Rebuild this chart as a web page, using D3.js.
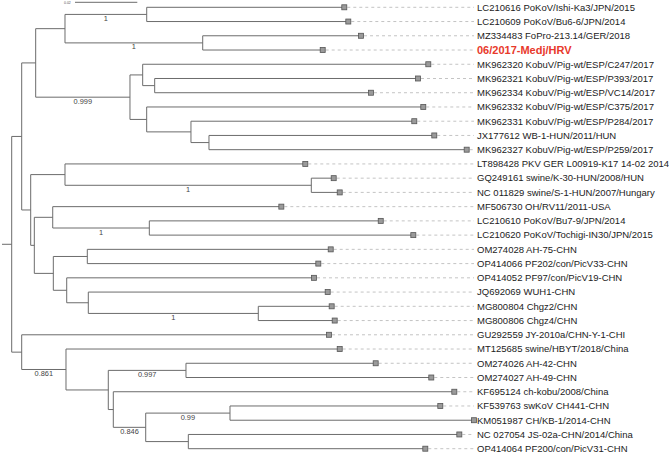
<!DOCTYPE html>
<html><head><meta charset="utf-8">
<script src="https://cdn.jsdelivr.net/npm/d3@7"></script>
<style>html,body{margin:0;padding:0;background:#fff;}svg{display:block;}text{-webkit-font-smoothing:antialiased;}</style>
</head><body>
<svg id="c" width="669" height="453"></svg>
<script>
// Tree topology with branch lengths (substitutions/site) and posterior supports
const treeNewick = "(((((" +
 "'LC210616 PoKoV/Ishi-Ka3/JPN/2015':0.06343,'LC210609 PoKoV/Bu6-6/JPN/2014':0.06472)1:0.02623," +
 "('MZ334483 FoPro-213.14/GER/2018':0.05082,'06/2017-Medj/HRV':0.03852)1:0.04421):0.00941," +
 "(('MK962320 KobuV/Pig-wt/ESP/C247/2017':0.09169,('MK962321 KobuV/Pig-wt/ESP/P393/2017':0.08453,'MK962334 KobuV/Pig-wt/ESP/VC14/2017':0.06944):0.00385):0.00408," +
 "('MK962332 KobuV/Pig-wt/ESP/C375/2017':0.08880,('MK962331 KobuV/Pig-wt/ESP/P284/2017':0.07169,('JX177612 WB-1-HUN/2011/HUN':0.07233,'MK962327 KobuV/Pig-wt/ESP/P259/2017':0.08273):0.00578):0.01422):0.00536)0.999:0.03027):0.00449," +
 "(('LT898428 PKV GER L00919-K17 14-02 2014':0.07714,('GQ249161 swine/K-30-HUN/2008/HUN':0.00719,'NC 011829 swine/S-1-HUN/2007/Hungary':0.00912)1:0.07907):0.01101," +
 "(('MF506730 OH/RV11/2011-USA':0.07339,('LC210610 PoKoV/Bu7-9/JPN/2014':0.07429,'LC210620 PoKoV/Tochigi-IN30/JPN/2015':0.08475)1:0.03101):0.00591," +
 "(('OM274028 AH-75-CHN':0.07814,'OP414066 PF202/con/PicV33-CHN':0.07416):0.01091," +
 "('OP414052 PF97/con/PicV19-CHN':0.07939,('JQ692069 WUH1-CHN':0.07685,('MG800804 Chgz2/CHN':0.02356,'MG800806 Chgz4/CHN':0.02453)1:0.05457):0.00693):0.00430):0.00610):0.00116):0.00289):0.00321," +
 "('GU292559 JY-2010a/CHN-Y-1-CHI':0.09865,('MT125685 swine/HBYT/2018/China':0.08787,(('OM274026 AH-42-CHN':0.06090,'OM274027 AH-49-CHN':0.07875)0.997:0.02494," +
 "('KF695124 ch-kobu/2008/China':0.10947,(('KF539763 swKoV CH441-CHN':0.06751,'KM051987 CH/KB-1/2014-CHN':0.07833)0.99:0.02706," +
 "('NC 027054 JS-02a-CHN/2014/China':0.08700,'OP414064 PF200/con/PicV31-CHN':0.07608):0.01368)0.846:0.01040):0.00161):0.01358)0.861:0.01422):0.00321);";
const highlightLeaf = "06/2017-Medj/HRV";
const scaleBarValue = 0.02;
const scaleBarLabel = "0.02";

function parseNewick(s) {
  let i = 0;
  function readLabel() {
    if (s[i] === "'") {
      let j = s.indexOf("'", i + 1);
      const t = s.slice(i + 1, j); i = j + 1; return t;
    }
    let t = "";
    while (i < s.length && !",():;".includes(s[i])) t += s[i++];
    return t;
  }
  function node() {
    const n = {};
    if (s[i] === "(") {
      i++; n.children = [];
      while (true) {
        n.children.push(node());
        if (s[i] === ",") { i++; continue; }
        if (s[i] === ")") { i++; break; }
      }
      const lab = readLabel();
      if (lab) n.support = lab;
    } else {
      n.name = readLabel();
    }
    if (s[i] === ":") { i++; let t = ""; while (i < s.length && !",();".includes(s[i])) t += s[i++]; n.length = +t; }
    else n.length = 0;
    return n;
  }
  return node();
}

const root = d3.hierarchy(parseNewick(treeNewick));
root.each(d => { d.len = d.parent ? d.parent.len + d.data.length : 0; });
const leaves = root.leaves();

const x = d3.scaleLinear().domain([0, scaleBarValue]).range([11.7, 74.0]);
const y = d3.scaleLinear().domain([0, leaves.length - 1]).range([7.3, 448.7]);

leaves.forEach((d, i) => { d.yy = y(i); });
root.eachAfter(d => { if (d.children) d.yy = (d.children[0].yy + d.children[d.children.length - 1].yy) / 2; });

const svg = d3.select("#c");
const lineCol = "#6c6c6c";
const labelX = 477;

// leader dashed lines
svg.append("g").selectAll("line").data(leaves).join("line")
  .attr("x1", d => x(d.len) + 3).attr("x2", labelX - 3)
  .attr("y1", d => d.yy).attr("y2", d => d.yy)
  .attr("stroke", "#c4c4c4").attr("stroke-width", 1).attr("stroke-dasharray", "3,3");

const g = svg.append("g").attr("fill", "none").attr("stroke", lineCol).attr("stroke-width", 1);
// root stub
g.append("line").attr("x1", 2).attr("x2", x(0)).attr("y1", root.yy).attr("y2", root.yy);
// vertical connectors
g.selectAll("line.v").data(root.descendants().filter(d => d.children)).join("line").attr("class", "v")
  .attr("x1", d => x(d.len)).attr("x2", d => x(d.len))
  .attr("y1", d => d.children[0].yy).attr("y2", d => d.children[d.children.length - 1].yy);
// horizontal branches
g.selectAll("line.h").data(root.descendants().filter(d => d.parent)).join("line").attr("class", "h")
  .attr("x1", d => x(d.parent.len)).attr("x2", d => x(d.len))
  .attr("y1", d => d.yy).attr("y2", d => d.yy);

// support labels
svg.append("g").selectAll("text").data(root.descendants().filter(d => d.data.support && d.parent)).join("text")
  .attr("x", d => (x(d.parent.len) + x(d.len)) / 2).attr("y", d => d.yy + 6.5)
  .attr("text-anchor", "middle").attr("font-family", "Liberation Sans, Arial, sans-serif")
  .attr("font-size", 7.4).attr("fill", "#444").text(d => d.data.support);

// tip squares
svg.append("g").selectAll("rect").data(leaves).join("rect")
  .attr("x", d => x(d.len) - 2.5).attr("y", d => d.yy - 2.5).attr("width", 5).attr("height", 5)
  .attr("fill", "#9a9a9a").attr("stroke", "#555").attr("stroke-width", 0.8);

// leaf labels
svg.append("g").selectAll("text").data(leaves).join("text")
  .attr("x", labelX).attr("y", d => d.yy).attr("dy", "0.35em")
  .attr("font-family", "Liberation Sans, Arial, sans-serif")
  .attr("font-size", d => d.data.name === highlightLeaf ? 11 : 9.5)
  .attr("font-weight", d => d.data.name === highlightLeaf ? "bold" : "normal")
  .attr("fill", d => d.data.name === highlightLeaf ? "#e8392b" : "#222")
  .text(d => d.data.name);

// scale bar
svg.append("line").attr("x1", 75).attr("x2", 75 + x(scaleBarValue) - x(0)).attr("y1", 2.3).attr("y2", 2.3)
  .attr("stroke", lineCol).attr("stroke-width", 1);
svg.append("text").attr("x", 64).attr("y", 3.5).attr("font-size", 3.5)
  .attr("font-family", "Liberation Sans, Arial, sans-serif").attr("fill", "#555").text(scaleBarLabel);
</script>
</body></html>
